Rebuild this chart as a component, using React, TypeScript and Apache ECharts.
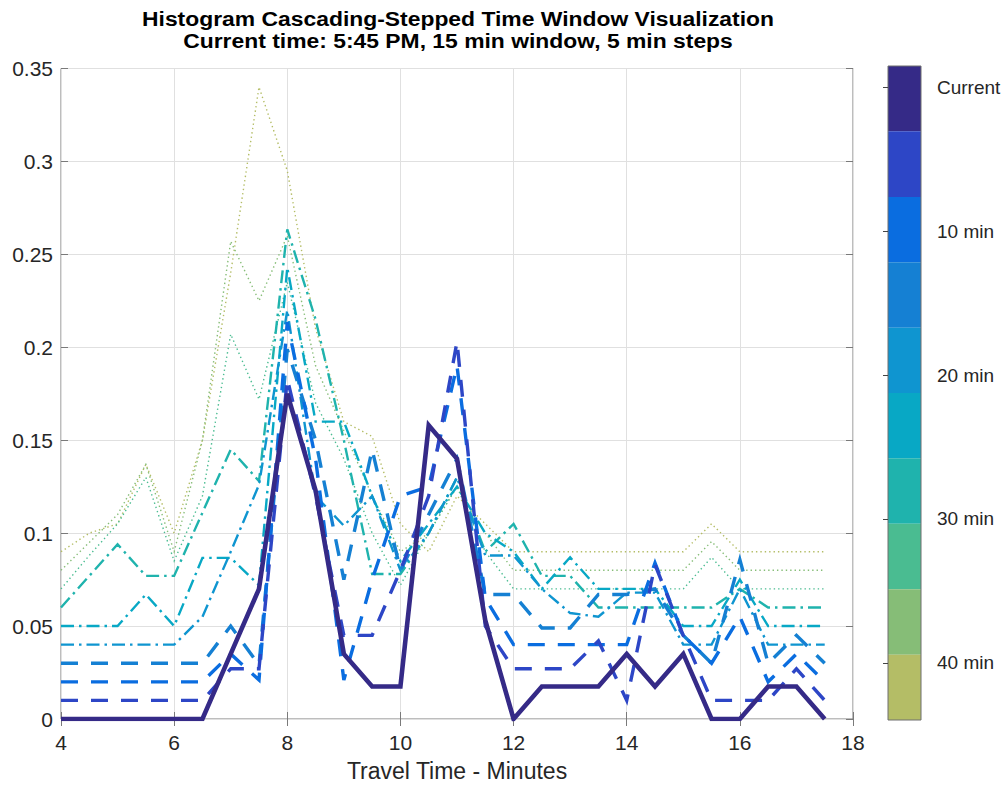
import React, { useEffect, useRef } from 'react';
import * as echarts from 'echarts';

// ---------- data ----------
const xValues = [4, 4.5, 5, 5.5, 6, 6.5, 7, 7.5, 8, 8.5, 9, 9.5, 10, 10.5, 11, 11.5, 12, 12.5, 13, 13.5, 14, 14.5, 15, 15.5, 16, 16.5, 17, 17.5];

const current = [0, 0, 0, 0, 0, 0, 0.035, 0.07, 0.175, 0.123, 0.035, 0.0175, 0.0175, 0.158, 0.14, 0.053, 0, 0.0175, 0.0175, 0.0175, 0.035, 0.0175, 0.035, 0, 0, 0.0175, 0.0175, 0];
const min5 = [0.01, 0.01, 0.01, 0.01, 0.01, 0.01, 0.027, 0.027, 0.183, 0.12, 0.045, 0.045, 0.08, 0.12, 0.203, 0.05, 0.027, 0.027, 0.027, 0.042, 0.01, 0.083, 0.045, 0.01, 0.01, 0.01, 0.027, 0.01];
const min10 = [0.02, 0.02, 0.02, 0.02, 0.02, 0.02, 0.035, 0.021, 0.2135, 0.14, 0.021, 0.075, 0.12, 0.125, 0.19, 0.065, 0.04, 0.04, 0.04, 0.04, 0.04, 0.084, 0.045, 0.03, 0.055, 0.02, 0.035, 0.02];
const min15 = [0.03, 0.03, 0.03, 0.03, 0.03, 0.03, 0.05, 0.029, 0.199, 0.15, 0.075, 0.145, 0.08, 0.11, 0.14, 0.067, 0.067, 0.049, 0.049, 0.067, 0.067, 0.07, 0.045, 0.03, 0.0857, 0.03, 0.045, 0.03];
const min20 = [0.04, 0.04, 0.04, 0.04, 0.04, 0.055, 0.09, 0.126, 0.22, 0.12, 0.104, 0.12, 0.08, 0.1, 0.13, 0.088, 0.088, 0.07, 0.057, 0.055, 0.068, 0.068, 0.04, 0.04, 0.07, 0.04, 0.04, 0.04];
const min25 = [0.05, 0.05, 0.05, 0.067, 0.05, 0.0867, 0.0867, 0.072, 0.243, 0.16, 0.16, 0.12, 0.085, 0.105, 0.125, 0.1, 0.09, 0.07, 0.087, 0.07, 0.07, 0.07, 0.05, 0.05, 0.075, 0.05, 0.05, 0.05];
const min30 = [0.06, 0.077, 0.094, 0.077, 0.077, 0.111, 0.145, 0.128, 0.2635, 0.215, 0.15, 0.078, 0.078, 0.1, 0.13, 0.09, 0.105, 0.077, 0.077, 0.06, 0.06, 0.06, 0.06, 0.06, 0.07, 0.06, 0.06, 0.06];
const min35 = [0.07, 0.088, 0.105, 0.13, 0.085, 0.12, 0.207, 0.172, 0.235, 0.17, 0.14, 0.1, 0.072, 0.1, 0.125, 0.09, 0.07, 0.07, 0.07, 0.07, 0.07, 0.07, 0.07, 0.087, 0.07, 0.07, 0.07, 0.07];
const min40 = [0.08, 0.095, 0.11, 0.137, 0.09, 0.15, 0.257, 0.225, 0.26, 0.19, 0.155, 0.12, 0.09, 0.1, 0.125, 0.1, 0.08, 0.08, 0.08, 0.08, 0.08, 0.08, 0.08, 0.0955, 0.08, 0.08, 0.08, 0.08];
const min45 = [0.09, 0.1, 0.105, 0.137, 0.1, 0.15, 0.24, 0.34, 0.295, 0.21, 0.16, 0.152, 0.105, 0.09, 0.12, 0.105, 0.09, 0.09, 0.09, 0.09, 0.09, 0.09, 0.09, 0.105, 0.09, 0.09, 0.09, 0.09];

const seriesNames = ['Current', '5 min', '10 min', '15 min', '20 min', '25 min', '30 min', '35 min', '40 min', '45 min'];
const seriesData = [current, min5, min10, min15, min20, min25, min30, min35, min40, min45];

// colorbar ticks (minutes) and band edges (minutes)
const colorbarTicks = [0, 10, 20, 30, 40];
const colorbarEdges = [-1.46, 3.08, 7.63, 12.17, 16.71, 21.25, 25.79, 30.33, 34.88, 39.42, 43.96];

const titleLines = ['Histogram Cascading-Stepped Time Window Visualization', 'Current time: 5:45 PM, 15 min window, 5 min steps'];
const xAxisName = 'Travel Time - Minutes';

// ---------- styles ----------
const colors = ['#352a87', '#2d46c6', '#0a6de0', '#1580d3', '#0f95d0', '#08a8c5', '#1fb3ad', '#4abc91', '#86bd77', '#b4bd66'];
const DASH = [17, 13];
const DASHDOT = [13, 5, 2.5, 5];
const DOT = [1.4, 3];
const lineStyles: any[] = [
  { width: 4.6, type: 'solid' },
  { width: 3.4, type: DASH },
  { width: 3.4, type: DASH },
  { width: 3.4, type: DASH },
  { width: 2.4, type: DASHDOT },
  { width: 2.4, type: DASHDOT },
  { width: 2.4, type: DASHDOT },
  { width: 1.4, type: DOT },
  { width: 1.4, type: DOT },
  { width: 1.4, type: DOT },
];

const FONT = '"Liberation Sans", Arial, Helvetica, sans-serif';
const TXT = '#262626';
const AX = '#7a7a7a';
const GRIDC = '#e0e0e0';

const PL = 61, PT = 68.5, PW = 792, PH = 653;

export default function App() {
  const ref = useRef<HTMLDivElement>(null);
  useEffect(() => {
    if (!ref.current) return;
    const chart = echarts.init(ref.current, null, { renderer: 'svg' });

    const lineSeries: any[] = [];
    for (let k = seriesData.length - 1; k >= 0; k--) {
      lineSeries.push({
        type: 'line',
        name: seriesNames[k],
        xAxisIndex: 0,
        yAxisIndex: 0,
        data: xValues.map((x, i) => [x, seriesData[k][i]]),
        showSymbol: false,
        symbol: 'none',
        lineStyle: { color: colors[k], width: lineStyles[k].width, type: lineStyles[k].type, cap: 'butt', join: 'miter' },
        itemStyle: { color: colors[k] },
        z: 2 + (seriesData.length - k),
        silent: true,
      });
    }

    const bandData = colorbarEdges.slice(0, -1).map((e, i) => ({
      value: [e, colorbarEdges[i + 1]],
      itemStyle: { color: colors[i] },
    }));

    const option: any = {
      animation: false,
      backgroundColor: '#ffffff',
      textStyle: { fontFamily: FONT },
      grid: [
        { left: PL, top: PT, width: PW, height: PH, show: true, borderColor: AX, borderWidth: 1, backgroundColor: 'transparent', containLabel: false },
        { left: 888, top: 66, width: 33, height: 654, show: true, borderColor: '#6e6e6e', borderWidth: 1, backgroundColor: 'transparent', z: 10 },
      ],
      graphic: [
        { type: 'text', x: 458, y: 19, scaleX: 1.09, z: 100, style: { text: titleLines[0], font: `bold 21px ${FONT}`, fill: '#000', textAlign: 'center', textVerticalAlign: 'middle' } },
        { type: 'text', x: 458, y: 40.5, scaleX: 1.09, z: 100, style: { text: titleLines[1], font: `bold 21px ${FONT}`, fill: '#000', textAlign: 'center', textVerticalAlign: 'middle' } },
      ],
      xAxis: [
        {
          gridIndex: 0, type: 'value', min: 4, max: 18, interval: 2, position: 'bottom',
          axisLine: { show: false },
          axisTick: { show: true, inside: true, length: 7, lineStyle: { color: AX, width: 1 } },
          axisLabel: { color: TXT, fontSize: 21, fontFamily: FONT, margin: 13 },
          splitLine: { show: true, lineStyle: { color: GRIDC, width: 1 } },
          name: xAxisName, nameLocation: 'middle', nameGap: 40,
          nameTextStyle: { color: TXT, fontSize: 23, fontFamily: FONT },
        },
        {
          gridIndex: 0, type: 'value', min: 4, max: 18, interval: 2, position: 'top',
          axisLine: { show: false },
          axisTick: { show: true, inside: true, length: 7, lineStyle: { color: AX, width: 1 } },
          axisLabel: { show: false },
          splitLine: { show: false },
        },
        { gridIndex: 1, type: 'value', min: 0, max: 1, show: false },
      ],
      yAxis: [
        {
          gridIndex: 0, type: 'value', min: 0, max: 0.35, interval: 0.05, position: 'left',
          axisLine: { show: false },
          axisTick: { show: true, inside: true, length: 7, lineStyle: { color: AX, width: 1 } },
          axisLabel: { color: TXT, fontSize: 21, fontFamily: FONT, margin: 8 },
          splitLine: { show: true, lineStyle: { color: GRIDC, width: 1 } },
        },
        {
          gridIndex: 0, type: 'value', min: 0, max: 0.35, interval: 0.05, position: 'right',
          axisLine: { show: false },
          axisTick: { show: true, inside: true, length: 7, lineStyle: { color: AX, width: 1 } },
          axisLabel: { show: false },
          splitLine: { show: false },
        },
        {
          gridIndex: 1, type: 'value', inverse: true, min: colorbarEdges[0], max: colorbarEdges[colorbarEdges.length - 1], position: 'right',
          axisLine: { show: false },
          axisTick: { show: true, inside: true, length: 5, customValues: colorbarTicks, lineStyle: { color: '#444', width: 1 } },
          axisLabel: {
            show: true, customValues: colorbarTicks, color: TXT, fontSize: 19, fontFamily: FONT, margin: 16,
            formatter: (v: number) => (v === 0 ? 'Current' : `${v} min`),
          },
          splitLine: { show: false },
          z: 12,
        },
      ],
      series: [
        ...lineSeries,
        {
          type: 'custom',
          xAxisIndex: 2,
          yAxisIndex: 2,
          silent: true,
          data: bandData,
          encode: { x: -1, y: [0, 1] },
          renderItem: (params: any, api: any) => {
            const a = api.coord([0, api.value(0)]);
            const b = api.coord([1, api.value(1)]);
            return {
              type: 'rect',
              shape: { x: a[0], y: a[1], width: b[0] - a[0], height: b[1] - a[1] },
              style: { fill: api.visual('color') },
            };
          },
        },
      ],
    };

    chart.setOption(option);
    return () => chart.dispose();
  }, []);

  return (
    <div
      ref={ref}
      style={{ position: 'absolute', left: 0, top: 0, width: 1006, height: 787, background: '#fff' }}
    />
  );
}
